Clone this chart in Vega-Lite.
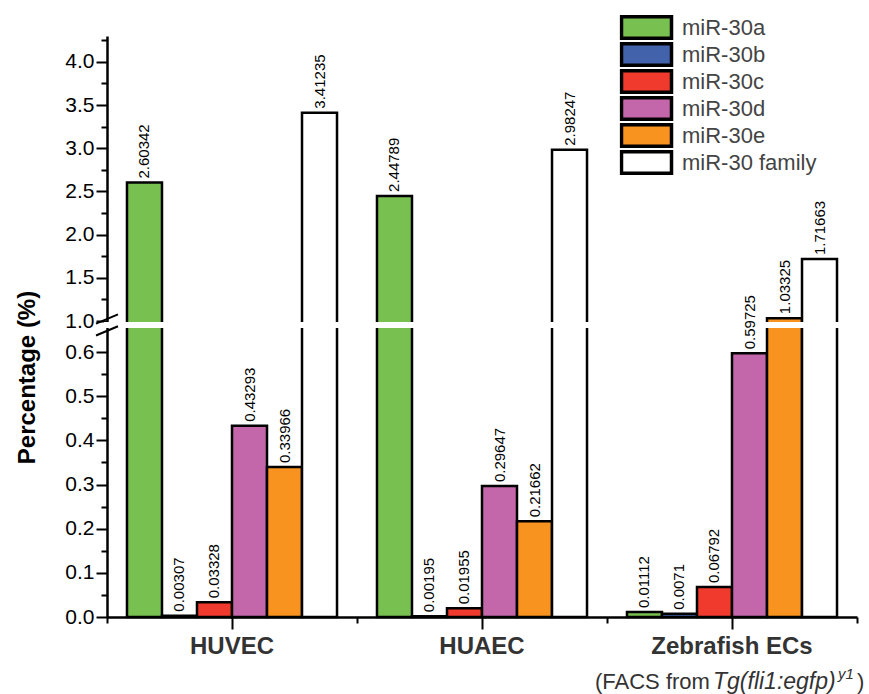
{
  "$schema": "https://vega.github.io/schema/vega-lite/v6.json",
  "width": 750,
  "height": 581,
  "autosize": {"type": "none"},
  "padding": {"left": 107, "top": 36, "right": 12, "bottom": 77},
  "background": "white",
  "config": {"view": {"stroke": null}, "font": "Liberation Sans"},
  "datasets": {
    "bars": [
      {"group": "HUVEC", "mirna": "miR-30a", "value": 2.60342},
      {"group": "HUVEC", "mirna": "miR-30b", "value": 0.00307},
      {"group": "HUVEC", "mirna": "miR-30c", "value": 0.03328},
      {"group": "HUVEC", "mirna": "miR-30d", "value": 0.43293},
      {"group": "HUVEC", "mirna": "miR-30e", "value": 0.33966},
      {"group": "HUVEC", "mirna": "miR-30 family", "value": 3.41235},
      {"group": "HUAEC", "mirna": "miR-30a", "value": 2.44789},
      {"group": "HUAEC", "mirna": "miR-30b", "value": 0.00195},
      {"group": "HUAEC", "mirna": "miR-30c", "value": 0.01955},
      {"group": "HUAEC", "mirna": "miR-30d", "value": 0.29647},
      {"group": "HUAEC", "mirna": "miR-30e", "value": 0.21662},
      {"group": "HUAEC", "mirna": "miR-30 family", "value": 2.98247},
      {"group": "Zebrafish ECs", "mirna": "miR-30a", "value": 0.01112},
      {"group": "Zebrafish ECs", "mirna": "miR-30b", "value": 0.0071},
      {"group": "Zebrafish ECs", "mirna": "miR-30c", "value": 0.06792},
      {"group": "Zebrafish ECs", "mirna": "miR-30d", "value": 0.59725},
      {"group": "Zebrafish ECs", "mirna": "miR-30e", "value": 1.03325},
      {"group": "Zebrafish ECs", "mirna": "miR-30 family", "value": 1.71663}
    ]
  },
  "resolve": {"axis": {"x": "independent", "y": "independent"}},
  "layer": [
    {
      "data": {"name": "bars"},
      "mark": {"type": "bar", "stroke": "black", "strokeWidth": 2.5},
      "encoding": {
        "x": {
          "field": "group", "type": "nominal",
          "sort": ["HUVEC", "HUAEC", "Zebrafish ECs"],
          "scale": {"paddingInner": 0, "paddingOuter": 0},
          "axis": {
            "title": null, "labelAngle": 0, "labelFontSize": 24, "labelFontWeight": "bold",
            "labelColor": "#333333", "tickSize": 12, "tickWidth": 2, "tickColor": "black",
            "domainWidth": 2.5, "domainColor": "black", "labelPadding": 5, "orient": "bottom"
          }
        },
        "xOffset": {
          "field": "mirna", "type": "nominal",
          "sort": ["miR-30a", "miR-30b", "miR-30c", "miR-30d", "miR-30e", "miR-30 family"],
          "scale": {"paddingInner": 0, "paddingOuter": 0.571}
        },
        "y": {
          "field": "value", "type": "quantitative",
          "scale": {"domain": [0, 0.65, 1.0, 4.3], "range": [581, 294, 285, 0], "nice": false, "zero": false},
          "axis": {
            "orient": "left",
            "values": [0, 0.1, 0.2, 0.3, 0.4, 0.5, 0.6, 1.0, 1.5, 2.0, 2.5, 3.0, 3.5, 4.0],
            "format": ".1f", "grid": false,
            "labelFontSize": 21, "labelColor": "black", "labelPadding": 2,
            "tickSize": 11, "tickWidth": 2, "tickColor": "black",
            "domainColor": "black", "domainWidth": 2.5,
            "title": "Percentage (%)", "titleFontSize": 24, "titleFontWeight": "bold", "titleColor": "black",
            "titleX": -80, "titleY": 341, "titleAngle": 270, "titleAlign": "center", "titleBaseline": "middle"
          }
        },
        "color": {
          "field": "mirna", "type": "nominal",
          "scale": {
            "domain": ["miR-30a", "miR-30b", "miR-30c", "miR-30d", "miR-30e", "miR-30 family"],
            "range": ["#78c050", "#4262ac", "#ef3a2d", "#c466aa", "#f7931e", "#ffffff"]
          },
          "legend": {
            "orient": "none", "legendX": 512.5, "legendY": -22, "title": null,
            "symbolType": "M-1,-0.86H3V0.86H-1Z", "symbolSize": 625,
            "symbolStrokeColor": "black", "symbolStrokeWidth": 3.5, "symbolOpacity": 1,
            "labelFontSize": 22, "labelColor": "#444444", "labelOffset": 33.5, "rowPadding": 0,
            "clipHeight": 27
          }
        }
      }
    },
    {
      "data": {"values": [{}]},
      "mark": {"type": "rule", "color": "white", "strokeWidth": 6, "strokeCap": "square"},
      "encoding": {"y": {"datum": 0.84, "type": "quantitative", "axis": null}}
    },
    {
      "data": {"name": "bars"},
      "mark": {"type": "text", "angle": 270, "align": "left", "baseline": "middle", "dx": 4, "fontSize": 15, "color": "black"},
      "encoding": {
        "x": {
          "field": "group", "type": "nominal",
          "sort": ["HUVEC", "HUAEC", "Zebrafish ECs"],
          "axis": {"orient": "bottom", "tickBand": "extent", "labels": false, "domain": false, "title": null,
                   "tickSize": 6, "tickWidth": 2, "tickColor": "black"}
        },
        "xOffset": {
          "field": "mirna", "type": "nominal",
          "sort": ["miR-30a", "miR-30b", "miR-30c", "miR-30d", "miR-30e", "miR-30 family"]
        },
        "y": {
          "field": "value", "type": "quantitative",
          "axis": {"orient": "left", "values": [0.05, 0.15, 0.25, 0.35, 0.45, 0.55, 1.25, 1.75, 2.25, 2.75, 3.25, 3.75, 4.25],
                   "labels": false, "domain": false, "title": null, "grid": false,
                   "tickSize": 6, "tickWidth": 2, "tickColor": "black"}
        },
        "text": {"field": "value", "type": "quantitative", "format": ".6~g"}
      }
    },
    {
      "data": {"values": [{}]},
      "mark": {"type": "point", "shape": "M-1,0.42L1,-0.42", "filled": false, "stroke": "black", "strokeWidth": 2, "size": 484, "opacity": 1},
      "encoding": {
        "x": {"datum": "HUVEC", "type": "nominal", "bandPosition": 0, "axis": null},
        "y": {"datum": 1.023, "type": "quantitative", "axis": null}
      }
    },
    {
      "data": {"values": [{}]},
      "mark": {"type": "point", "shape": "M-1,0.42L1,-0.42", "filled": false, "stroke": "black", "strokeWidth": 2, "size": 484, "opacity": 1},
      "encoding": {
        "x": {"datum": "HUVEC", "type": "nominal", "bandPosition": 0, "axis": null},
        "y": {"datum": 0.648, "type": "quantitative", "axis": null}
      }
    },
    {
      "data": {"values": [{"t": "(FACS from"}]},
      "mark": {"type": "text", "align": "left", "baseline": "alphabetic", "dx": -137, "fontSize": 22, "color": "#333333"},
      "encoding": {
        "x": {"datum": "Zebrafish ECs", "type": "nominal", "axis": null},
        "y": {"datum": -0.164, "type": "quantitative", "axis": null},
        "text": {"field": "t"}
      }
    },
    {
      "data": {"values": [{"t": "Tg(fli1:egfp)"}]},
      "mark": {"type": "text", "align": "left", "baseline": "alphabetic", "dx": -19, "fontSize": 23, "fontStyle": "italic", "color": "#333333"},
      "encoding": {
        "x": {"datum": "Zebrafish ECs", "type": "nominal", "axis": null},
        "y": {"datum": -0.164, "type": "quantitative", "axis": null},
        "text": {"field": "t"}
      }
    },
    {
      "data": {"values": [{"t": "y1"}]},
      "mark": {"type": "text", "align": "left", "baseline": "alphabetic", "dx": 106, "dy": -10, "fontSize": 15, "fontStyle": "italic", "color": "#333333"},
      "encoding": {
        "x": {"datum": "Zebrafish ECs", "type": "nominal", "axis": null},
        "y": {"datum": -0.164, "type": "quantitative", "axis": null},
        "text": {"field": "t"}
      }
    },
    {
      "data": {"values": [{"t": ")"}]},
      "mark": {"type": "text", "align": "left", "baseline": "alphabetic", "dx": 125, "fontSize": 22, "color": "#333333"},
      "encoding": {
        "x": {"datum": "Zebrafish ECs", "type": "nominal", "axis": null},
        "y": {"datum": -0.164, "type": "quantitative", "axis": null},
        "text": {"field": "t"}
      }
    }
  ]
}
